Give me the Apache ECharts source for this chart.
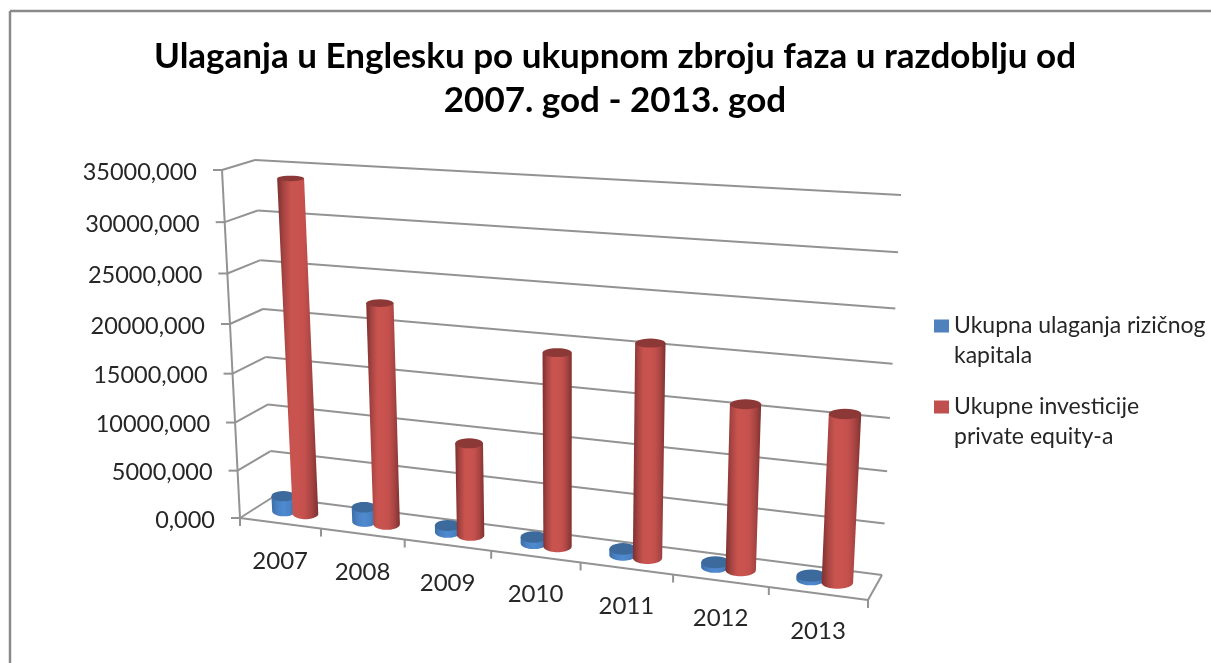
<!DOCTYPE html>
<html>
<head>
<meta charset="utf-8">
<style>
  html, body { margin: 0; padding: 0; background: #fff; }
  #main { width: 1211px; height: 663px; }
</style>
<script src="https://cdn.jsdelivr.net/npm/echarts@6/dist/echarts.min.js"></script>
</head>
<body>
<div id="main"></div>
<script>
const categories = ['2007', '2008', '2009', '2010', '2011', '2012', '2013']
const yTicks = [0, 5000, 10000, 15000, 20000, 25000, 30000, 35000]
const ventureValues = [1600, 1500, 700, 650, 600, 450, 350]
const equityValues = [34000, 22500, 9400, 19200, 20900, 16000, 16000]
const seriesNames = ['Ukupna ulaganja rizičnog\nkapitala', 'Ukupne investicije\nprivate equity-a']

const font = 'Lato'
const gridColor = '#939393'

// corners of the two planes of the 3d box: back wall and front plane
const backQuad = [[255, 160], [901, 195], [882, 575], [273, 497]]
const frontQuad = [[222, 170], [889, 211], [868, 600], [240, 518]]

function quadMap(q) {
    const [p0, p1, p2, p3] = q
    const dx1 = p1[0] - p2[0], dx2 = p3[0] - p2[0], sx = p0[0] - p1[0] + p2[0] - p3[0]
    const dy1 = p1[1] - p2[1], dy2 = p3[1] - p2[1], sy = p0[1] - p1[1] + p2[1] - p3[1]
    const den = dx1 * dy2 - dx2 * dy1
    const g = (sx * dy2 - dx2 * sy) / den
    const h = (dx1 * sy - sx * dy1) / den
    const a = p1[0] - p0[0] + g * p1[0], b = p3[0] - p0[0] + h * p3[0]
    const d = p1[1] - p0[1] + g * p1[1], e = p3[1] - p0[1] + h * p3[1]
    return (u, v) => {
        const w = g * u + h * v + 1
        return [(a * u + b * v + p0[0]) / w, (d * u + e * v + p0[1]) / w]
    }
}
const backMap = quadMap(backQuad)
const frontMap = quadMap(frontQuad)

// u, v are 0..1 inside the grid, depth 0 is the back wall, 1 the front
function project(u, v, depth) {
    const b = backMap(u, v), f = frontMap(u, v)
    return [b[0] + (f[0] - b[0]) * depth, b[1] + (f[1] - b[1]) * depth]
}
function toUnit(params, pt) {
    const c = params.coordSys
    return [(pt[0] - c.x) / c.width, (pt[1] - c.y) / c.height]
}
function seg(a, b) {
    return {
        type: 'line',
        shape: { x1: a[0], y1: a[1], x2: b[0], y2: b[1] },
        style: { stroke: gridColor, lineWidth: 2 }
    }
}

function renderGridline(params, api) {
    const value = api.value(1)
    const v = toUnit(params, api.coord([0, value]))[1]
    const frontLeft = project(0, v, 1)
    const backLeft = project(0, v, 0)
    const backRight = project(1, v, 0)
    const children = [
        seg(frontLeft, backLeft),
        seg(backLeft, backRight),
        seg([frontLeft[0] - 9, frontLeft[1]], frontLeft),
        {
            type: 'text',
            style: {
                x: frontLeft[0] - 25, y: frontLeft[1] + 2,
                text: value.toFixed(3).replace('.', ','),
                align: 'right', verticalAlign: 'middle',
                font: '23.5px ' + font, fill: '#262626'
            }
        }
    ]
    if (value === 0) {
        children.push(seg(project(0, 0, 1), project(0, 1, 1)))
        children.push(seg(frontLeft, project(1, v, 1)))
        children.push(seg(backRight, project(1, v, 1)))
    }
    return { type: 'group', children: children }
}

function renderCategory(params, api) {
    const k = api.value(0)
    const zero = toUnit(params, api.coord([k, 0]))
    const band = api.size([1, 0])[0] / params.coordSys.width
    const children = []
    const mid = project(zero[0], zero[1], 1)
    const right = project(zero[0] + band / 2, zero[1], 1)
    children.push(seg(right, [right[0], right[1] + 8]))
    if (k === 0) {
        const left = project(0, zero[1], 1)
        children.push(seg(left, [left[0], left[1] + 8]))
    }
    children.push({
        type: 'text',
        style: {
            x: mid[0], y: mid[1] + 38,
            text: categories[k],
            align: 'center', verticalAlign: 'middle',
            font: '24px ' + font, fill: '#262626'
        }
    })
    return { type: 'group', children: children }
}

function ellipsePoints(c, rx, ry, from, to) {
    const pts = []
    for (let i = 0; i <= 24; i++) {
        const a = from + (to - from) * i / 24
        pts.push([c[0] + rx * Math.cos(a), c[1] + ry * Math.sin(a)])
    }
    return pts
}

function cylinderRenderer(offset, radius, colors, topColor) {
    return function (params, api) {
        const k = api.value(0)
        const band = api.size([1, 0])[0] / params.coordSys.width
        const baseUnit = toUnit(params, api.coord([k, 0]))
        const topUnit = toUnit(params, api.coord([k, api.value(1)]))
        const u = baseUnit[0] + offset * band
        const depth = 0.5, dd = 0.25
        const size = (v) => {
            const a = project(u - radius * band, v, depth)
            const b = project(u + radius * band, v, depth)
            const near = project(u, v, depth + dd), far = project(u, v, depth - dd)
            return { c: project(u, v, depth), rx: (b[0] - a[0]) / 2, ry: (near[1] - far[1]) / 2 }
        }
        const base = size(baseUnit[1]), top = size(topUnit[1])
        const body = [[top.c[0] - top.rx, top.c[1]]]
            .concat(ellipsePoints(base.c, base.rx, base.ry, Math.PI, 0))
            .concat([[top.c[0] + top.rx, top.c[1]]])
        return {
            type: 'group',
            children: [
                {
                    type: 'polygon',
                    shape: { points: body },
                    style: {
                        fill: new echarts.graphic.LinearGradient(0, 0, 1, 0, colors.map((c, i) => ({
                            offset: i / (colors.length - 1), color: c
                        })))
                    }
                },
                {
                    type: 'polygon',
                    shape: { points: ellipsePoints(top.c, top.rx, top.ry, 0, Math.PI * 2) },
                    style: { fill: topColor }
                }
            ]
        }
    }
}

const blueBody = ['#3a6ea8', '#4a82c4', '#4f8ad0', '#4a82c4', '#3a6ea8']
const redBody = ['#7c302e', '#a84543', '#c9534f', '#c9534f', '#c4504d', '#a84543', '#7e3130']

const chart = echarts.init(document.getElementById('main'))
chart.setOption({
    animation: false,
    backgroundColor: '#fff',
    color: ['#4f81bd', '#c0504d'],
    title: {
        text: 'Ulaganja u Englesku po ukupnom zbroju faza u razdoblju od\n2007. god - 2013. god',
        left: 610,
        top: 30,
        textAlign: 'center',
        textStyle: { fontFamily: font, fontSize: 35, fontWeight: 'bold', color: '#000', lineHeight: 44 }
    },
    legend: {
        data: seriesNames,
        orient: 'vertical',
        left: 929,
        top: 276,
        icon: 'rect',
        itemWidth: 15,
        itemHeight: 13,
        itemGap: -9,
        selectedMode: false,
        // a blank first line keeps the swatch level with the first line of the name
        formatter: name => ' \n' + name,
        textStyle: { fontFamily: font, fontSize: 23, color: '#262626', lineHeight: 30 }
    },
    grid: { left: 255, top: 160, width: 646, height: 337 },
    xAxis: { type: 'category', data: categories, show: false },
    yAxis: { type: 'value', min: 0, max: 35000, interval: 5000, show: false },
    graphic: [
        { type: 'line', shape: { x1: 10, y1: 11, x2: 1211, y2: 11 }, style: { stroke: '#8a8a8a', lineWidth: 2.5 } },
        { type: 'line', shape: { x1: 10, y1: 11, x2: 10, y2: 663 }, style: { stroke: '#8a8a8a', lineWidth: 2.5 } }
    ],
    series: [
        { type: 'custom', name: 'gridlines', data: yTicks.map(t => [0, t]), renderItem: renderGridline, z: 1, silent: true },
        { type: 'custom', name: 'categories', data: categories.map((c, i) => [i, 0]), renderItem: renderCategory, z: 1, silent: true },
        {
            type: 'custom', name: seriesNames[0], z: 2, silent: true,
            data: ventureValues.map((v, i) => [i, v]),
            itemStyle: { color: '#4f81bd' },
            renderItem: cylinderRenderer(-0.15, 0.15, blueBody, '#3c6a9c')
        },
        {
            type: 'custom', name: seriesNames[1], z: 3, silent: true,
            data: equityValues.map((v, i) => [i, v]),
            itemStyle: { color: '#c0504d' },
            renderItem: cylinderRenderer(0.12, 0.16, redBody, '#8c3836')
        }
    ]
})
</script>
</body>
</html>
